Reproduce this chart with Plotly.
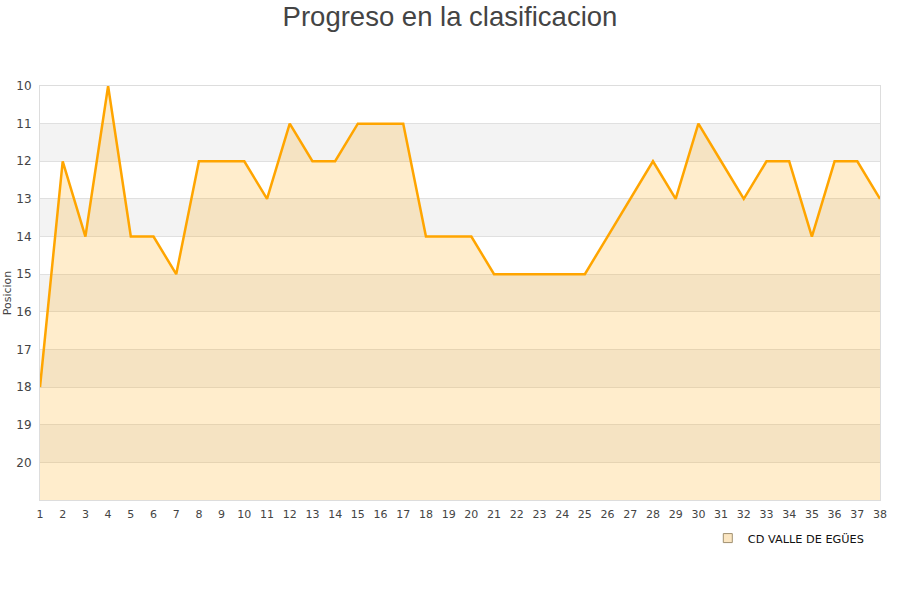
import plotly.graph_objects as go

jornadas = list(range(1, 39))
posiciones = [18, 12, 14, 10, 14, 14, 15, 12, 12, 12, 13, 11, 12, 12, 11, 11, 11,
              14, 14, 14, 15, 15, 15, 15, 15, 14, 13, 12, 13, 11, 12, 13, 12, 12,
              14, 12, 12, 13]
y_ticks = list(range(10, 21))
team = "CD VALLE DE EGÜES"
y_bottom = 21
y_top = 10

fig = go.Figure()

# baseline for fill
fig.add_trace(go.Scatter(x=jornadas, y=[y_bottom] * len(jornadas), mode="lines",
                         line=dict(width=0, color="rgba(0,0,0,0)"),
                         showlegend=False, hoverinfo="skip"))
fig.add_trace(go.Scatter(x=jornadas, y=posiciones, mode="lines", fill="tonexty",
                         fillcolor="rgba(255,165,0,0.2)",
                         line=dict(color="#FFA500", width=2.5),
                         showlegend=False, name=team))
# legend entry
fig.add_trace(go.Scatter(x=[None], y=[None], mode="markers", name=team,
                         marker=dict(symbol="square", size=9, color="#FBE6C2",
                                     line=dict(color="#A09070", width=1))))

# alternating bands
for k in range(y_top + 1, y_bottom, 2):
    fig.add_shape(type="rect", xref="paper", x0=0, x1=1, yref="y", y0=k, y1=k + 1,
                  fillcolor="#F3F3F3", line=dict(width=0), layer="below")

fig.update_layout(
    width=900, height=600,
    margin=dict(l=40, r=20, t=86, b=100, autoexpand=False),
    paper_bgcolor="white", plot_bgcolor="white",
    title=dict(text="Progreso en la clasificacion", x=0.5, xanchor="center",
               xref="container", yref="container",
               y=1 - 16 / 600, yanchor="middle",
               font=dict(family="Liberation Sans, Arial, sans-serif", size=27.5, color="#444444")),
    font=dict(family="DejaVu Sans, Verdana, sans-serif", size=11, color="#444444"),
    showlegend=True,
    legend=dict(x=0.795, y=-0.092, xanchor="left", yanchor="middle",
                font=dict(family="DejaVu Sans, sans-serif", size=11.3, color="#111111"),
                bgcolor="rgba(0,0,0,0)", itemwidth=30),
    xaxis=dict(range=[1, 38], tickmode="array", tickvals=jornadas, automargin=False,
               ticktext=[str(j) for j in jornadas], showgrid=False, zeroline=False,
               showline=True, linecolor="#DDDDDD", mirror=True, ticks="",
               ticklabelstandoff=4,
               tickfont=dict(size=11, color="#444444")),
    yaxis=dict(range=[y_bottom, y_top], tickmode="array", tickvals=y_ticks, automargin=False,
               ticktext=[str(v) for v in y_ticks], showgrid=True,
               gridcolor="#E0E0E0", zeroline=False, showline=True,
               linecolor="#DDDDDD", mirror=True, ticks="",
               ticklabelstandoff=5,
               title=dict(text="Posicion", font=dict(size=11, color="#444444"), standoff=2),
               tickfont=dict(size=12, color="#444444")),
)

fig.write_html("out.html", config={"displayModeBar": False},
               post_script="document.body.style.margin='0px';")
